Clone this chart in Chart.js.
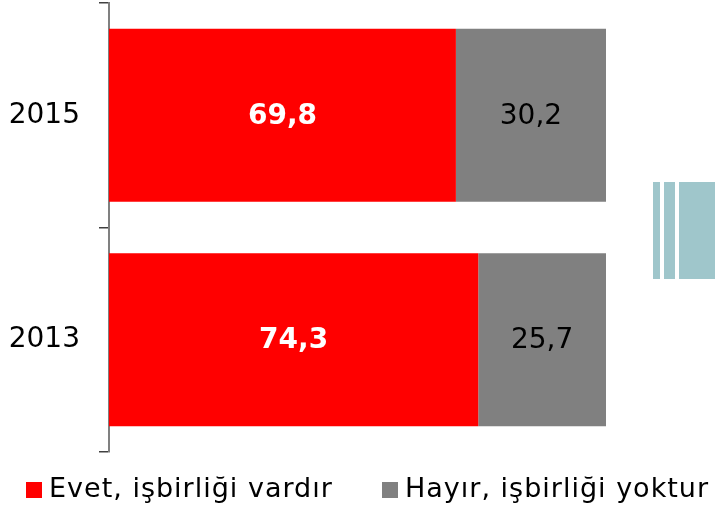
<!DOCTYPE html>
<html>
<head>
<meta charset="utf-8">
<script src="https://cdn.jsdelivr.net/npm/chart.js@4.4.1/dist/chart.umd.min.js"></script>
<style>
  html, body { margin: 0; padding: 0; background: #fff; }
  #wrap { position: relative; width: 715px; height: 508px; overflow: hidden; }
  #legend { position: absolute; top: 473px; left: 0; width: 715px; height: 30px;
            font-family: 'DejaVu Sans', sans-serif; font-size: 27px; letter-spacing: 1px; color: #000; }
  .item { position: absolute; top: 0; white-space: nowrap; line-height: 30px; }
  .box { display: inline-block; width: 16px; height: 16px; vertical-align: -1px; margin-right: 7px; }
  .deco { position: absolute; top: 182px; height: 97px; background: #9fc6cb; }
</style>
</head>
<body>
<div id="wrap">
  <canvas id="chart" width="715" height="508"></canvas>
  <div class="deco" style="left:653px;width:7px"></div>
  <div class="deco" style="left:664px;width:11px"></div>
  <div class="deco" style="left:679px;width:36px"></div>
  <div id="legend"></div>
</div>
<script>
// data
const years = ['2015', '2013'];
const evet = [69.8, 74.3];
const hayir = [30.2, 25.7];
const seriesNames = ['Evet, işbirliği vardır', 'Hayır, işbirliği yoktur'];
const seriesColors = ['#ff0000', '#808080'];
const legendLeft = [26, 382];

const fmt = v => v.toFixed(1).replace('.', ',');

// draws the values in the middle of each bar segment
const barLabels = {
  id: 'barLabels',
  afterDatasetsDraw(chart) {
    const ctx = chart.ctx;
    ctx.save();
    ctx.textAlign = 'center';
    ctx.textBaseline = 'middle';
    chart.data.datasets.forEach((ds, i) => {
      const meta = chart.getDatasetMeta(i);
      meta.data.forEach((bar, j) => {
        const cx = (bar.x + bar.base) / 2;
        if (i === 0) {
          ctx.font = 'bold 28px "DejaVu Sans"';
          ctx.fillStyle = '#ffffff';
        } else {
          ctx.font = '28px "DejaVu Sans"';
          ctx.fillStyle = '#000000';
        }
        ctx.fillText(fmt(ds.data[j]), cx, bar.y + 1);
      });
    });
    ctx.restore();
  }
};

new Chart(document.getElementById('chart'), {
  type: 'bar',
  data: {
    labels: years,
    datasets: [
      { label: seriesNames[0], data: evet, backgroundColor: seriesColors[0] },
      { label: seriesNames[1], data: hayir, backgroundColor: seriesColors[1] }
    ]
  },
  options: {
    indexAxis: 'y',
    responsive: false,
    animation: false,
    layout: { padding: { top: 3, right: 109, bottom: 56, left: 0 } },
    datasets: { bar: { categoryPercentage: 1, barPercentage: 0.77 } },
    plugins: { legend: { display: false }, tooltip: { enabled: false } },
    scales: {
      x: { display: false, stacked: true, min: 0, max: 100 },
      y: {
        stacked: true,
        afterFit: s => { s.width = 109; s.paddingTop = 0; s.paddingBottom = 0; },
        grid: { drawOnChartArea: false, drawTicks: true, tickLength: 10, color: '#404040', lineWidth: 1.5 },
        border: { display: true, color: '#808080', width: 2 },
        ticks: { color: '#000', padding: 19, font: { family: 'DejaVu Sans', size: 28 } }
      }
    }
  },
  plugins: [barLabels]
});

// legend
const legend = document.getElementById('legend');
seriesNames.forEach((name, i) => {
  const item = document.createElement('div');
  item.className = 'item';
  item.style.left = legendLeft[i] + 'px';
  item.innerHTML = '<span class="box" style="background:' + seriesColors[i] + '"></span>' + name;
  legend.appendChild(item);
});
</script>
</body>
</html>
